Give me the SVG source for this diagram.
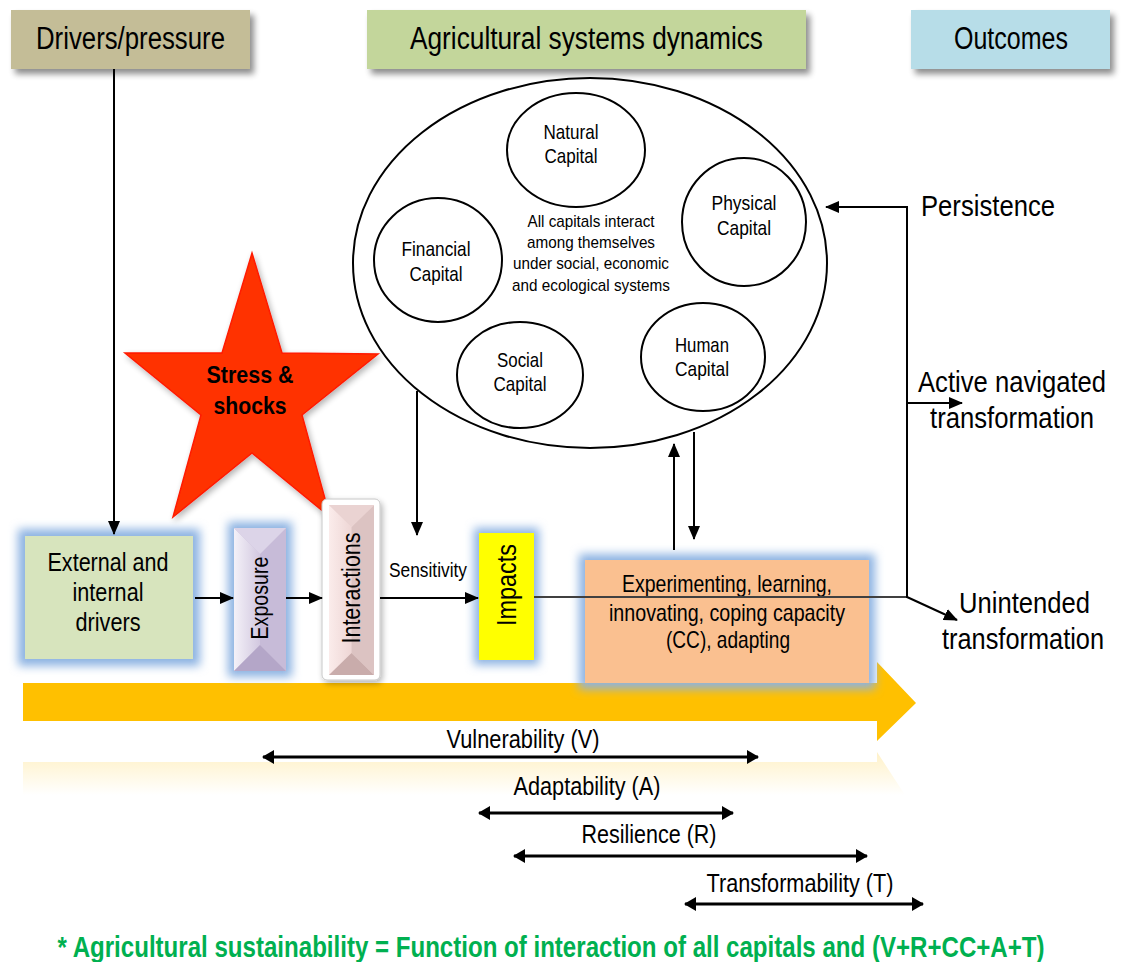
<svg xmlns="http://www.w3.org/2000/svg" width="1121" height="962" viewBox="0 0 1121 962">
<defs>
<style>
text{font-family:"Liberation Sans Narrow","Liberation Sans",Arial,sans-serif;fill:#000}
.hdr{font-size:31px;text-anchor:middle}
.lbl{font-size:26px;text-anchor:middle}
.cap{font-size:21px;text-anchor:middle}
.mid{font-size:17px;text-anchor:middle}
.out{font-size:30px}
.rng{font-size:26px;text-anchor:middle}
.ln{stroke:#000;stroke-width:2;fill:none}
.dbl{stroke:#000;stroke-width:3;fill:none}
.circ{fill:#fff;stroke:#000;stroke-width:2}
</style>
<marker id="ah" markerWidth="14" markerHeight="12" refX="13" refY="6" orient="auto-start-reverse" markerUnits="userSpaceOnUse"><path d="M0,0 L14,6 L0,12 z" fill="#000"/></marker>
<marker id="ah2" markerWidth="12" markerHeight="14" refX="11" refY="7" orient="auto-start-reverse" markerUnits="userSpaceOnUse"><path d="M0,0 L12,7 L0,14 z" fill="#000"/></marker>
<filter id="sh" x="-10%" y="-20%" width="125%" height="150%"><feGaussianBlur in="SourceAlpha" stdDeviation="3"/><feOffset dx="4" dy="5"/><feComponentTransfer><feFuncA type="linear" slope="0.45"/></feComponentTransfer><feMerge><feMergeNode/><feMergeNode in="SourceGraphic"/></feMerge></filter>
<filter id="blur" x="-30%" y="-30%" width="160%" height="160%"><feGaussianBlur stdDeviation="5"/></filter>
<filter id="ssh" x="-20%" y="-20%" width="140%" height="140%"><feGaussianBlur in="SourceAlpha" stdDeviation="3"/><feOffset dx="2" dy="3"/><feComponentTransfer><feFuncA type="linear" slope="0.3"/></feComponentTransfer><feMerge><feMergeNode/><feMergeNode in="SourceGraphic"/></feMerge></filter>
<linearGradient id="refl" x1="0" y1="0" x2="0" y2="1"><stop offset="0" stop-color="#ffc000" stop-opacity="0.22"/><stop offset="1" stop-color="#ffc000" stop-opacity="0"/></linearGradient>
<linearGradient id="expL" x1="0" y1="0" x2="1" y2="0"><stop offset="0" stop-color="#f4f1f8"/><stop offset="1" stop-color="#d2c8e0"/></linearGradient>
<linearGradient id="intL" x1="0" y1="0" x2="1" y2="0"><stop offset="0" stop-color="#fbeceb"/><stop offset="1" stop-color="#eed6d5"/></linearGradient>
</defs>
<rect width="1121" height="962" fill="#fff"/>

<g id="hdr-drivers">
<rect x="11" y="10" width="239" height="59" fill="#c4bd97" filter="url(#sh)"/>
<text class="hdr" x="130.5" y="49" textLength="189" lengthAdjust="spacingAndGlyphs">Drivers/pressure</text>
</g>
<g id="hdr-ag">
<rect x="367" y="10" width="439" height="59" fill="#c3d69b" filter="url(#sh)"/>
<text class="hdr" x="586.5" y="49" textLength="353" lengthAdjust="spacingAndGlyphs">Agricultural systems dynamics</text>
</g>
<g id="hdr-outcomes">
<rect x="911" y="10" width="199" height="59" fill="#b7dde8" filter="url(#sh)"/>
<text class="hdr" x="1011" y="49" textLength="114" lengthAdjust="spacingAndGlyphs">Outcomes</text>
</g>

<g id="capitals">
<ellipse cx="590" cy="263" rx="237" ry="185" fill="#fff" stroke="#000" stroke-width="2"/>
<text class="mid" x="591" y="227" textLength="127" lengthAdjust="spacingAndGlyphs">All capitals interact</text>
<text class="mid" x="591" y="248" textLength="128" lengthAdjust="spacingAndGlyphs">among themselves</text>
<text class="mid" x="591" y="269" textLength="156" lengthAdjust="spacingAndGlyphs">under social, economic</text>
<text class="mid" x="591" y="291" textLength="158" lengthAdjust="spacingAndGlyphs">and ecological systems</text>
</g>
<g id="natural">
<ellipse class="circ" cx="576" cy="150" rx="69" ry="57"/>
<text class="cap" x="571" y="139" textLength="55" lengthAdjust="spacingAndGlyphs">Natural</text>
<text class="cap" x="571" y="163" textLength="53" lengthAdjust="spacingAndGlyphs">Capital</text>
</g>
<g id="physical">
<ellipse class="circ" cx="744" cy="222" rx="62" ry="64"/>
<text class="cap" x="744" y="210" textLength="65" lengthAdjust="spacingAndGlyphs">Physical</text>
<text class="cap" x="744" y="235" textLength="54" lengthAdjust="spacingAndGlyphs">Capital</text>
</g>
<g id="financial">
<ellipse class="circ" cx="438" cy="260" rx="64" ry="62"/>
<text class="cap" x="436" y="256" textLength="69" lengthAdjust="spacingAndGlyphs">Financial</text>
<text class="cap" x="436" y="281" textLength="53" lengthAdjust="spacingAndGlyphs">Capital</text>
</g>
<g id="social">
<ellipse class="circ" cx="520" cy="375" rx="63" ry="53"/>
<text class="cap" x="520" y="367" textLength="46" lengthAdjust="spacingAndGlyphs">Social</text>
<text class="cap" x="520" y="391" textLength="53" lengthAdjust="spacingAndGlyphs">Capital</text>
</g>
<g id="human">
<ellipse class="circ" cx="703" cy="357" rx="62" ry="54"/>
<text class="cap" x="702" y="352" textLength="54" lengthAdjust="spacingAndGlyphs">Human</text>
<text class="cap" x="702" y="376" textLength="54" lengthAdjust="spacingAndGlyphs">Capital</text>
</g>

<g id="flow-arrow">
<polygon points="23,683 877,683 877,662 916,703 877,741 877,721 23,721" fill="#ffc000"/>
<polygon points="23,762 877,762 877,752 905,795 23,795" fill="url(#refl)"/>
</g>

<g id="stress">
<polygon points="252,253 282,353 378,354 302,415 330,517 252,453 173,517 201,415 125,353 222,353" fill="#ff3300" stroke="#ff1a00" stroke-width="1.5" filter="url(#ssh)"/>
<text x="250" y="383" font-size="24" font-weight="bold" text-anchor="middle" textLength="87" lengthAdjust="spacingAndGlyphs">Stress &amp;</text>
<text x="250" y="414" font-size="24" font-weight="bold" text-anchor="middle" textLength="73" lengthAdjust="spacingAndGlyphs">shocks</text>
</g>

<g id="drivers">
<rect x="18" y="529" width="182" height="137" fill="#8db3e2" filter="url(#blur)"/>
<rect x="25" y="536" width="168" height="123" fill="#d7e4bd"/>
<text class="lbl" x="108" y="571" textLength="121" lengthAdjust="spacingAndGlyphs">External and</text>
<text class="lbl" x="108" y="601" textLength="71" lengthAdjust="spacingAndGlyphs">internal</text>
<text class="lbl" x="108" y="631" textLength="65" lengthAdjust="spacingAndGlyphs">drivers</text>
</g>

<g id="exposure">
<rect x="228" y="522" width="64" height="155" fill="#8db3e2" filter="url(#blur)"/>
<rect x="234" y="528" width="52" height="143" fill="#ccc0da"/>
<polygon points="234,528 260,554 260,645 234,671" fill="url(#expL)"/>
<polygon points="286,528 260,554 260,645 286,671" fill="#c7bbd8"/>
<polygon points="234,528 286,528 260,554" fill="#dcd4e8"/>
<polygon points="234,671 286,671 260,645" fill="#b4a6c8"/>
<text transform="translate(259,598) rotate(-90)" font-size="24" text-anchor="middle" dominant-baseline="central" textLength="83" lengthAdjust="spacingAndGlyphs">Exposure</text>
</g>

<g id="interactions">
<rect x="322" y="499" width="58" height="181" rx="5" fill="#fff" stroke="#c8c8c8" stroke-width="1" filter="url(#ssh)"/>
<rect x="329" y="505" width="45" height="170" fill="#f2dcdb"/>
<polygon points="329,505 351.5,527 351.5,653 329,675" fill="url(#intL)"/>
<polygon points="374,505 351.5,527 351.5,653 374,675" fill="#dcc3c2"/>
<polygon points="329,505 374,505 351.5,527" fill="#ead3d2"/>
<polygon points="329,675 374,675 351.5,653" fill="#c9acab"/>
<text transform="translate(351,588) rotate(-90)" font-size="26" text-anchor="middle" dominant-baseline="central" textLength="111" lengthAdjust="spacingAndGlyphs">Interactions</text>
</g>

<g id="sensitivity">
<text x="428" y="577" font-size="21" text-anchor="middle" textLength="78" lengthAdjust="spacingAndGlyphs">Sensitivity</text>
</g>

<g id="impacts">
<rect x="474" y="528" width="65" height="137" fill="#8db3e2" filter="url(#blur)"/>
<rect x="479" y="533" width="55" height="127" fill="#ffff00"/>
<text transform="translate(507,585) rotate(-90)" font-size="27" text-anchor="middle" dominant-baseline="central" textLength="82" lengthAdjust="spacingAndGlyphs">Impacts</text>
</g>

<g id="coping">
<rect x="579" y="554" width="296" height="135" fill="#8db3e2" filter="url(#blur)"/>
<rect x="585" y="560" width="284" height="123" fill="#fac090"/>
<text x="727" y="592" font-size="24" text-anchor="middle" textLength="210" lengthAdjust="spacingAndGlyphs">Experimenting, learning,</text>
<text x="727" y="621" font-size="24" text-anchor="middle" textLength="236" lengthAdjust="spacingAndGlyphs">innovating, coping capacity</text>
<text x="728" y="648" font-size="24" text-anchor="middle" textLength="124" lengthAdjust="spacingAndGlyphs">(CC), adapting</text>
</g>

<g id="connectors">
<line class="ln" x1="114" y1="69" x2="114" y2="534" marker-end="url(#ah)"/>
<line class="ln" x1="195" y1="598" x2="233" y2="598" marker-end="url(#ah)"/>
<line class="ln" x1="286" y1="598" x2="322" y2="598" marker-end="url(#ah)"/>
<line class="ln" x1="380" y1="598" x2="478" y2="598" marker-end="url(#ah)"/>
<line class="ln" x1="417" y1="391" x2="417" y2="535" marker-end="url(#ah)"/>
<line class="ln" x1="674" y1="550" x2="674" y2="444" marker-end="url(#ah)"/>
<line class="ln" x1="694" y1="432" x2="694" y2="539" marker-end="url(#ah)"/>
<line x1="534" y1="597" x2="907" y2="597" stroke="#404040" stroke-width="2"/>
<line class="ln" x1="907" y1="206" x2="907" y2="598"/>
<line class="ln" x1="907" y1="207" x2="826" y2="207" marker-end="url(#ah)"/>
<line class="ln" x1="907" y1="403" x2="962" y2="403" marker-end="url(#ah)"/>
<line class="ln" x1="907" y1="597" x2="957" y2="620" marker-end="url(#ah)"/>
<line class="dbl" x1="263" y1="757" x2="758" y2="757" marker-start="url(#ah2)" marker-end="url(#ah2)"/>
<line class="dbl" x1="479" y1="813" x2="733" y2="813" marker-start="url(#ah2)" marker-end="url(#ah2)"/>
<line class="dbl" x1="514" y1="856" x2="867" y2="856" marker-start="url(#ah2)" marker-end="url(#ah2)"/>
<line class="dbl" x1="685" y1="904" x2="923" y2="904" marker-start="url(#ah2)" marker-end="url(#ah2)"/>
</g>

<g id="outcome-labels">
<text class="out" x="921" y="216" textLength="134" lengthAdjust="spacingAndGlyphs">Persistence</text>
<text class="out" x="918" y="392" textLength="188" lengthAdjust="spacingAndGlyphs">Active navigated</text>
<text class="out" x="930" y="428" textLength="164" lengthAdjust="spacingAndGlyphs">transformation</text>
<text class="out" x="959" y="613" textLength="131" lengthAdjust="spacingAndGlyphs">Unintended</text>
<text class="out" x="942" y="649" textLength="162" lengthAdjust="spacingAndGlyphs">transformation</text>
</g>

<g id="ranges">
<text class="rng" x="523" y="748" textLength="153" lengthAdjust="spacingAndGlyphs">Vulnerability (V)</text>
<text class="rng" x="587" y="795" textLength="147" lengthAdjust="spacingAndGlyphs">Adaptability (A)</text>
<text class="rng" x="649" y="843" textLength="135" lengthAdjust="spacingAndGlyphs">Resilience (R)</text>
<text class="rng" x="800" y="892" textLength="187" lengthAdjust="spacingAndGlyphs">Transformability (T)</text>
</g>

<g id="footer">
<text x="551" y="957" font-size="30" font-weight="bold" text-anchor="middle" style="fill:#00b050" textLength="987" lengthAdjust="spacingAndGlyphs">* Agricultural sustainability = Function of interaction of all capitals and (V+R+CC+A+T)</text>
</g>
</svg>
